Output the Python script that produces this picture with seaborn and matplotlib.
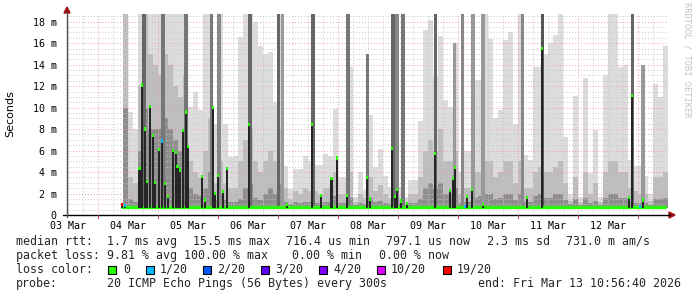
import numpy as np
import pandas as pd
import matplotlib
matplotlib.use("Agg")
import matplotlib.pyplot as plt
import seaborn as sns
from matplotlib.patches import Rectangle, Polygon

# ---------------- data (hours since 03 Mar 00:00, values in ms) ----------------
bin_first_hour = 34.0
bin_hours = 2.0
smoke_top = [18.7, 9.6, 8.0, 18.7, 18.7, 18.7, 18.7, 18.7, 18.7, 18.7,
             18.7, 18.7, 18.7, 10.1, 11.5, 9.8, 18.7, 18.7, 8.5, 18.7,
             8.5, 5.4, 5.5, 16.6, 18.7, 18.7, 18.0, 15.7, 15.0, 15.2,
             10.5, 18.7, 4.6, 2.4, 4.3, 4.3, 5.5, 5.0, 4.7, 4.7,
             5.7, 5.5, 9.9, 3.5, 3.5, 13.8, 1.7, 4.0, 2.3, 9.3,
             4.5, 6.1, 3.6, 2.6, 18.7, 2.6, 1.7, 3.3, 3.3, 8.8,
             17.2, 18.2, 12.9, 16.7, 10.7, 10.1, 16.0, 4.0, 6.0, 6.0,
             12.6, 12.6, 18.7, 16.4, 9.0, 9.8, 16.3, 17.0, 8.5, 18.7,
             5.6, 5.1, 13.8, 13.8, 15.0, 16.0, 16.8, 18.7, 7.3, 2.0,
             11.1, 1.7, 12.8, 3.9, 7.9, 1.7, 13.0, 18.7, 18.7, 13.8,
             14.0, 5.1, 4.6, 4.6, 3.6, 2.0, 12.2, 11.0, 15.7]
smoke_mid = [18.7, 3.5, 3.0, 12, 18.7, 15, 14, 13, 15, 14,
             12, 11, 13, 5, 4, 3.5, 6, 9, 3, 5,
             3, 2.5, 2.5, 5, 7, 8, 5, 4, 5, 6,
             5, 8, 2.5, 1.5, 2.2, 2.0, 2.5, 2.2, 2.2, 2.0,
             2.5, 2.5, 4, 2, 2, 4, 1.2, 2, 1.6, 3.5,
             2.2, 2.8, 2, 1.6, 6, 1.6, 1.2, 2, 2, 3.5,
             6, 7, 6, 8, 5, 5, 6, 2, 2.5, 2.5,
             4, 4, 5, 5, 3.5, 4, 5, 5, 3, 5,
             2.5, 2.5, 4, 4.5, 4, 4, 4.5, 5, 3, 1.3,
             3.5, 1.2, 4, 2, 3, 1.2, 4, 5, 5, 4,
             4, 2.5, 2.2, 2.0, 2.0, 1.3, 3.5, 3.5, 4]
smoke_core = [10, 1.5, 1.2, 6, 10, 8, 8, 8, 9, 8,
              7, 6, 7, 2.5, 2, 1.8, 2.5, 4, 1.4, 2,
              1.4, 1.2, 1.2, 1.5, 2.5, 3, 1.6, 1.4, 2, 2.5,
              2, 3, 1.2, 1.0, 1.2, 1.1, 1.2, 1.2, 1.1, 1.1,
              1.2, 1.2, 1.8, 1.1, 1.1, 1.6, 0.9, 1.1, 1.0, 1.6,
              1.2, 1.3, 1.1, 1.0, 2.5, 1.0, 0.9, 1.1, 1.1, 1.5,
              2.5, 3, 2.5, 3, 2, 2, 2.5, 1.1, 1.2, 1.2,
              1.6, 1.8, 2, 2, 1.5, 1.6, 2, 2, 1.4, 2,
              1.2, 1.2, 1.8, 2, 1.6, 1.6, 2, 2, 1.4, 1.0,
              1.5, 0.9, 1.6, 1.1, 1.3, 0.9, 1.6, 2, 2, 1.6,
              1.6, 1.2, 1.1, 1.1, 1.1, 0.9, 1.5, 1.5, 1.6]

stripe_hour = [42.4, 50.0, 59.2, 69.4, 72.4, 84.8, 96.2, 97.8, 110.0, 124.0,
               131.8, 142.0, 143.6, 146.0, 159.0, 166.6, 169.8, 174.0, 178.0,
               193.8, 201.8, 237.8, 242.0]
stripe_top = [18.7, 18.7, 18.7, 18.7, 18.7, 18.7, 18.7, 18.7, 18.7, 18.7,
              15.0, 18.7, 18.7, 18.7, 18.7, 16.0, 18.7, 18.7, 18.7,
              18.7, 18.7, 18.7, 14.0]
stripe_shade = ["#666666", "#777777", "#777777", "#777777", "#888888", "#666666",
                "#666666", "#999999", "#666666", "#777777", "#777777", "#666666",
                "#888888", "#777777", "#666666", "#999999", "#888888", "#999999",
                "#999999", "#888888", "#555555", "#666666", "#999999"]

spike_hour = [33.6, 34.8, 40.6, 41.6, 42.8, 43.6, 44.8, 46.0, 46.8, 48.4, 49.6,
              50.8, 52.0, 54.0, 55.2, 55.8, 56.8, 58.0, 59.2, 60.0, 65.6,
              66.8, 70.0, 70.8, 72.0, 74.0, 75.6, 84.4, 99.6, 109.6, 113.2,
              117.4, 119.6, 123.6, 131.6, 132.8, 141.6, 142.8, 143.6, 145.2,
              147.6, 158.8, 164.8, 166.0, 166.8, 170.8, 171.6, 173.6, 178.0,
              195.6, 201.6, 236.4, 237.6, 240.8, 242.0]
spike_ms = [1.0, 0.9, 4.3, 12.1, 8.0, 3.1, 10.1, 7.4, 3.0, 6.1, 6.9,
            2.9, 1.7, 6.0, 5.8, 4.5, 4.2, 7.9, 9.6, 6.4, 3.6,
            1.4, 10.0, 2.0, 3.7, 2.2, 4.3, 8.4, 1.0, 8.4, 1.8,
            3.4, 5.3, 1.8, 3.5, 1.5, 6.2, 1.7, 2.4, 1.3,
            1.1, 5.7, 2.3, 3.4, 4.4, 0.77, 1.7, 2.4, 1.0,
            1.6, 15.5, 1.6, 11.1, 0.77, 1.4]
spike_loss = ["19/20", "1/20", "0", "0", "0", "0", "0", "0", "0", "0", "1/20",
              "0", "0", "0", "0", "0", "0", "0", "0", "0", "0",
              "0", "0", "0", "0", "0", "0", "0", "0", "0", "0",
              "0", "0", "0", "0", "0", "0", "0", "0", "0",
              "0", "0", "0", "0", "0", "1/20", "0", "0", "0",
              "0", "0", "0", "0", "1/20", "0"]

base_median_ms = 0.76
data_end_hour = 250.9
day_labels = ["03 Mar", "04 Mar", "05 Mar", "06 Mar", "07 Mar",
              "08 Mar", "09 Mar", "10 Mar", "11 Mar", "12 Mar"]
ytick_values = [0, 2, 4, 6, 8, 10, 12, 14, 16, 18]
ytick_labels = ["0", "2 m", "4 m", "6 m", "8 m", "10 m", "12 m", "14 m", "16 m", "18 m"]

loss_names = ["0", "1/20", "2/20", "3/20", "4/20", "10/20", "19/20"]
loss_colors = ["#26ff00", "#00b8ff", "#0059ff", "#5e00ff", "#7e00ff", "#dd00ff", "#ff0000"]

rtt_stats = ["1.7 ms avg", "15.5 ms max", "716.4 us min", "797.1 us now", "2.3 ms sd", "731.0 m am/s"]
loss_stats = ["9.81 % avg", "100.00 % max", "0.00 % min", "0.00 % now"]
probe_text = "20 ICMP Echo Pings (56 Bytes) every 300s"
end_text = "end: Fri Mar 13 10:56:40 2026"

# ---------------- drawing ----------------
sns.set_theme(style="white")
plt.rcParams["font.family"] = ["DejaVu Sans Mono", "DejaVu Sans"]

W, H = 697, 297
fig = plt.figure(figsize=(W / 100, H / 100), dpi=100)
fig.patch.set_facecolor("white")
ax_left, ax_right, ax_bottom, ax_top = 67, 668, 215, 14.2
ax = fig.add_axes([ax_left / W, 1 - ax_bottom / H, (ax_right - ax_left) / W, (ax_bottom - ax_top) / H])
ax.set_xlim(11.6, 252.0)
ax.set_ylim(0, 18.7)
ax.set_facecolor("white")
for s in ax.spines.values():
    s.set_visible(False)

smoke_floor = 0.62
bins = bin_first_hour + bin_hours * np.arange(len(smoke_top))
top = np.array(smoke_top); mid = np.array(smoke_mid); core = np.array(smoke_core)
ax.bar(bins, top - smoke_floor, bottom=smoke_floor, width=bin_hours, align="edge",
       color="#dcdcdc", linewidth=0, zorder=1)
ax.bar(bins, mid - smoke_floor, bottom=smoke_floor, width=bin_hours, align="edge",
       color="#bdbdbd", linewidth=0, zorder=2)
ax.bar(bins, core - smoke_floor, bottom=smoke_floor, width=bin_hours, align="edge",
       color="#8e8e8e", linewidth=0, zorder=3)

# grid (drawn over the light smoke, under the dark stripes and spikes)
minor_c, major_c = "#c8c8c8", "#e9a0a0"
for v in np.arange(0.5, 18.7, 0.5):
    is_major = abs(v / 2 - round(v / 2)) < 1e-6
    ax.axhline(v, color=major_c if is_major else minor_c, lw=0.7,
               ls=(0, (1, 2)), zorder=3.5)
for hh in np.arange(12, 252, 6):
    is_major = hh % 24 == 0
    ax.axvline(hh, color=major_c if is_major else minor_c, lw=0.7,
               ls=(0, (1, 2)), zorder=3.5)

ax.bar(stripe_hour, np.array(stripe_top) - smoke_floor, bottom=smoke_floor, width=1.3,
       color=stripe_shade, linewidth=0, zorder=4)

# median line (green) with seaborn
med_df = pd.DataFrame({"hour": [bin_first_hour - 0.4, data_end_hour],
                       "median": [base_median_ms, base_median_ms]})
sns.lineplot(data=med_df, x="hour", y="median", ax=ax, color=loss_colors[0],
             linewidth=2.3, zorder=6, legend=False)

# median spikes
cmap = dict(zip(loss_names, loss_colors))
sp_h = np.array(spike_hour); sp_v = np.array(spike_ms)
ax.bar(sp_h, np.maximum(sp_v - smoke_floor, 0), bottom=smoke_floor, width=1.0,
       color="#262626", linewidth=0, zorder=7)
ax.bar(sp_h, 0.3, bottom=sp_v - 0.15, width=1.1,
       color=[cmap[l] for l in spike_loss], linewidth=0, zorder=8)

# ticks
ax.set_xlabel("")
ax.set_ylabel("")
ax.set_yticks(ytick_values)
ax.set_yticklabels(ytick_labels, fontsize=7.2)
ax.set_xticks([12 + 24 * k for k in range(len(day_labels))])
ax.set_xticklabels(day_labels, fontsize=7.2)
ax.tick_params(axis="both", length=0, pad=7.5, colors="black")
ax.tick_params(axis="x", pad=4)
ax.grid(False)

# axes lines and arrows
def fx(px):
    return px / W
def fy(py):
    return 1 - py / H
fig.add_artist(plt.Line2D([fx(63), fx(670)], [fy(215), fy(215)], color="black", lw=1.0))
fig.add_artist(plt.Line2D([fx(67), fx(67)], [fy(217), fy(12)], color="#505050", lw=1.0))
fig.add_artist(Polygon([[fx(64), fy(13)], [fx(70), fy(13)], [fx(67), fy(7)]],
                       closed=True, color="#a01010", transform=fig.transFigure))
fig.add_artist(Polygon([[fx(669), fy(212)], [fx(669), fy(218)], [fx(675), fy(215)]],
                       closed=True, color="#a01010", transform=fig.transFigure))
for hh in np.arange(24, 252, 24):
    xp = ax_left + (hh - 11.6) * 2.5
    fig.add_artist(plt.Line2D([fx(xp), fx(xp)], [fy(215), fy(218)], color="#d04040", lw=0.8))

# labels
fig.text(fx(10), fy(114), "Seconds", rotation=90, ha="center", va="center",
         fontsize=8, family=["DejaVu Sans"], color="black")
fig.text(fx(687), fy(60), "RRDTOOL / TOBI OETIKER", rotation=270, ha="center", va="center",
         fontsize=6.3, color="#c4c4c4")

fs = 8.4
rows_y = [241.5, 255.3, 269.2, 283.2]
fig.text(fx(16), fy(rows_y[0]), "median rtt:", fontsize=fs, va="center")
for xp, t in zip([107, 193, 286, 386, 487, 566], rtt_stats):
    fig.text(fx(xp), fy(rows_y[0]), t, fontsize=fs, va="center")
fig.text(fx(16), fy(rows_y[1]), "packet loss:", fontsize=fs, va="center")
for xp, t in zip([107, 184, 292, 379], loss_stats):
    fig.text(fx(xp), fy(rows_y[1]), t, fontsize=fs, va="center")
fig.text(fx(16), fy(rows_y[2]), "loss color:", fontsize=fs, va="center")
sq_x = [108, 145.7, 203, 261, 319, 377.3, 442.7]
tx_x = [123, 160, 217, 275, 333, 390.7, 456.7]
for sx, tx, name, col in zip(sq_x, tx_x, loss_names, loss_colors):
    fig.add_artist(Rectangle((fx(sx), fy(273.5)), 8 / W, 8 / H, transform=fig.transFigure,
                             facecolor=col, edgecolor="black", lw=0.8))
    fig.text(fx(tx), fy(rows_y[2]), name, fontsize=fs, va="center")
fig.text(fx(16), fy(rows_y[3]), "probe:", fontsize=fs, va="center")
fig.text(fx(107), fy(rows_y[3]), probe_text, fontsize=fs, va="center")
fig.text(fx(478), fy(rows_y[3]), end_text, fontsize=fs, va="center")

fig.savefig("out.png", dpi=100, facecolor="white")
